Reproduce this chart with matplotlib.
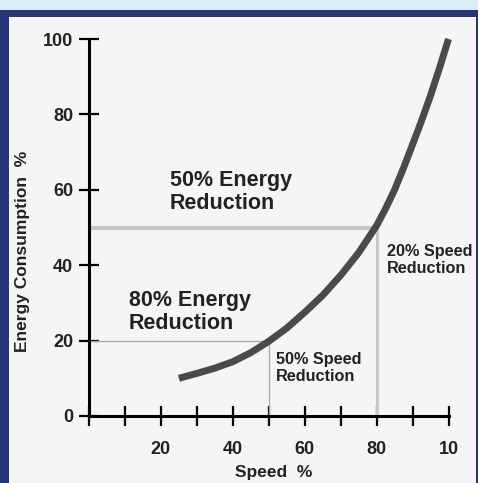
import matplotlib.pyplot as plt
from matplotlib.patches import Rectangle

plt.rcParams['font.family'] = ['Liberation Sans', 'DejaVu Sans']
plt.rcParams['font.weight'] = 'bold'

# curve
speed = [25, 30, 35, 40, 45, 50, 55, 60, 65, 70, 75, 80, 82.5, 85, 87.5, 90, 92.5, 95, 97.5, 100]
energy = [10, 11.3, 12.7, 14.4, 16.8, 19.8, 23.3, 27.5, 32, 37.3, 43.3, 50.5, 55, 60, 65.8, 72, 78.3, 85, 92.3, 100]

x_ticks = [0, 10, 20, 30, 40, 50, 60, 70, 80, 90, 100]
x_labels = ['', '', '20', '', '40', '', '60', '', '80', '', '10']
y_ticks = [0, 20, 40, 60, 80, 100]

W, H = 478, 483
fig = plt.figure(figsize=(W / 100, H / 100), dpi=100)
fig.patch.set_facecolor('#ddedf8')

# navy frame and light panel
fig.add_artist(Rectangle((0, 0), 1, (H - 10) / H, transform=fig.transFigure,
                         facecolor='#283378', edgecolor='none', zorder=-10))
fig.add_artist(Rectangle((9 / W, 0), (476 - 9) / W, (H - 17) / H, transform=fig.transFigure,
                         facecolor='#f5f5f5', edgecolor='none', zorder=-9))

ax = fig.add_axes([89 / W, (H - 416) / H, (448.5 - 89) / W, (416 - 39) / H])
ax.set_facecolor('none')
ax.set_xlim(0, 100)
ax.set_ylim(0, 100)

# reference lines
ax.plot([0, 80], [50, 50], color='#c8c8c8', lw=3, solid_capstyle='butt')
ax.plot([80, 80], [0, 50], color='#c8c8c8', lw=2.2, solid_capstyle='butt')
ax.plot([0, 50], [20, 20], color='#a8a8a8', lw=0.9)
ax.plot([50, 50], [0, 20], color='#a8a8a8', lw=0.9)

ax.plot(speed, energy, color='#4a4a4a', lw=5, solid_capstyle='butt', clip_on=False, zorder=3)

for s in ['top', 'right']:
    ax.spines[s].set_visible(False)
for s in ['left', 'bottom']:
    ax.spines[s].set_linewidth(2.2)
    ax.spines[s].set_color('black')

ax.set_xticks(x_ticks)
ax.set_xticklabels(x_labels)
ax.set_yticks(y_ticks)
ax.tick_params(axis='both', direction='inout', length=14.4, width=1.6, color='black',
               labelsize=13, labelcolor='#222222')
ax.tick_params(axis='x', pad=10.5)
ax.tick_params(axis='y', pad=4.3)
for lab in ax.get_xticklabels() + ax.get_yticklabels():
    lab.set_fontweight('bold')

ax.set_xlabel('Speed  %', fontsize=12.5, fontweight='bold', color='#222222', va='center')
ax.xaxis.set_label_coords((274 - 89) / 359.5, (416 - 472) / 377)
ax.set_ylabel('Energy Consumption  %', fontsize=12.5, fontweight='bold', color='#222222', va='center')
ax.yaxis.set_label_coords((23 - 89) / 359.5, (416 - 251) / 377)

big = dict(fontsize=15.5, fontweight='bold', color='#222222', va='top', ha='left', linespacing=1.12)
small = dict(fontsize=11.7, fontweight='bold', color='#222222', va='top', ha='left', linespacing=1.15)
ax.text(22.5, 65.2, '50% Energy\nReduction', **big)
ax.text(11.1, 33.4, '80% Energy\nReduction', **big)
ax.text(82.9, 45.6, '20% Speed\nReduction', **small)
ax.text(52, 16.9, '50% Speed\nReduction', **small)

fig.savefig('out.png', dpi=100, facecolor=fig.get_facecolor())
